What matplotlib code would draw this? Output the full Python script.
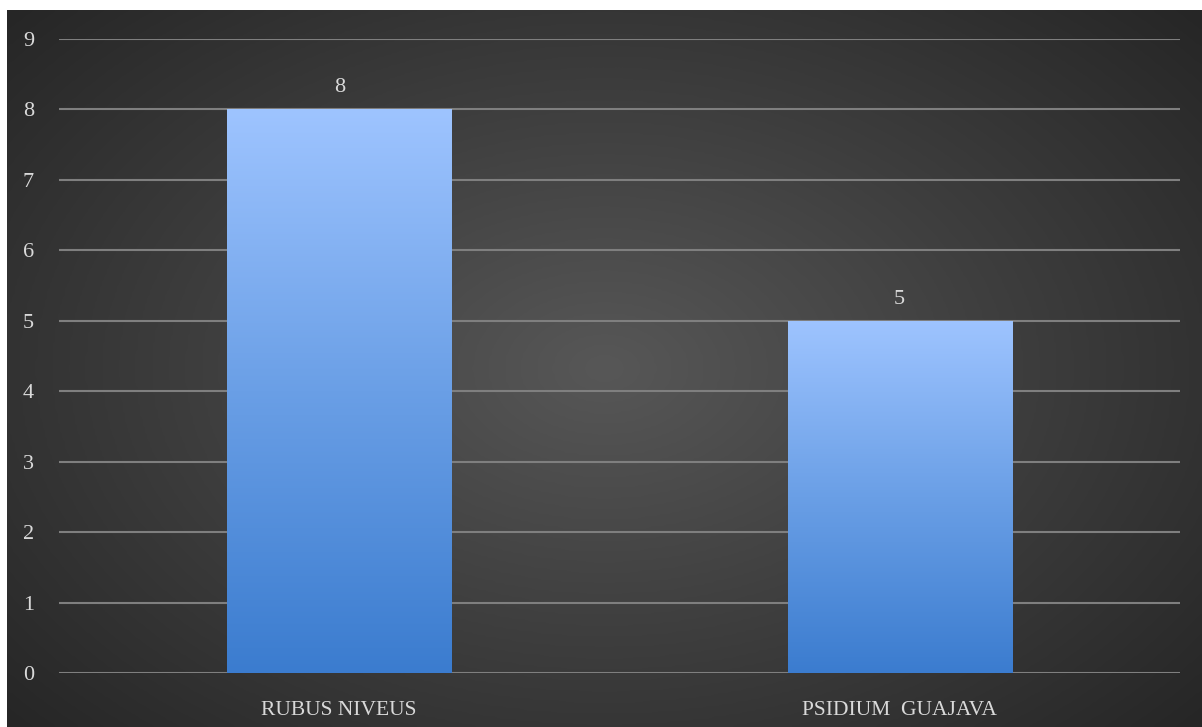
import numpy as np
import matplotlib.pyplot as plt
from matplotlib.colors import LinearSegmentedColormap

categories = ["RUBUS NIVEUS", "PSIDIUM  GUAJAVA"]
values = [8, 5]
y_ticks = [0, 1, 2, 3, 4, 5, 6, 7, 8, 9]

W, H = 1202, 727
fig = plt.figure(figsize=(W / 100, H / 100), dpi=100)
fig.patch.set_facecolor("white")

# dark radial background (white strip top and left like the screenshot)
bg = fig.add_axes([7 / W, 0, 1 - 7 / W, 1 - 10 / H])
bg.set_axis_off()
yy, xx = np.mgrid[0:1:300j, 0:1:500j]
r = np.sqrt(((xx - 0.5) * 1.0) ** 2 + ((yy - 0.5) * 0.9) ** 2)
r = r / r.max()
bg_cmap = LinearSegmentedColormap.from_list("bg", ["#575757", "#3e3e3e", "#262626"])
bg.imshow(r, cmap=bg_cmap, aspect="auto", extent=[0, 1, 0, 1], interpolation="bicubic")
bg.set_xlim(0, 1)
bg.set_ylim(0, 1)

ax = fig.add_axes([59 / W, 1 - 673 / H, (1180 - 59) / W, (673 - 39) / H])
ax.patch.set_alpha(0)
text_color = "#d9d9d9"
font = "Liberation Serif"

x = np.arange(len(categories))
bars = ax.bar(x, values, width=0.4, color="none", zorder=3)

bar_cmap = LinearSegmentedColormap.from_list("bar", ["#3b7ccf", "#6a9fe6", "#9ec4ff"])
grad = np.linspace(0, 1, 256).reshape(-1, 1)
for b in bars:
    x0, y0 = b.get_x(), b.get_y()
    w, h = b.get_width(), b.get_height()
    im = ax.imshow(grad, cmap=bar_cmap, aspect="auto", origin="lower",
                   extent=[x0, x0 + w, y0, y0 + h], zorder=3)
    im.set_clip_path(b)
    ax.text(x0 + w / 2, h + 0.17, str(int(h)), ha="center", va="bottom",
            color=text_color, fontsize=16, family=font)

ax.set_xlim(-0.5, len(categories) - 0.5)
ax.set_ylim(0, 9)
ax.set_yticks(y_ticks)
ax.set_yticklabels([str(t) for t in y_ticks], color=text_color, fontsize=16, family=font)
ax.set_xticks(x)
ax.set_xticklabels(categories, color=text_color, fontsize=15.5, family=font)
ax.tick_params(axis="y", length=0, pad=22)
ax.tick_params(axis="x", length=0, pad=20)
for lbl in ax.get_yticklabels():
    lbl.set_horizontalalignment("center")
ax.grid(axis="y", color="#7f7f7f", linewidth=1.5, zorder=1)
ax.set_axisbelow(True)
for s in ax.spines.values():
    s.set_visible(False)

fig.savefig("out.png", dpi=100)
